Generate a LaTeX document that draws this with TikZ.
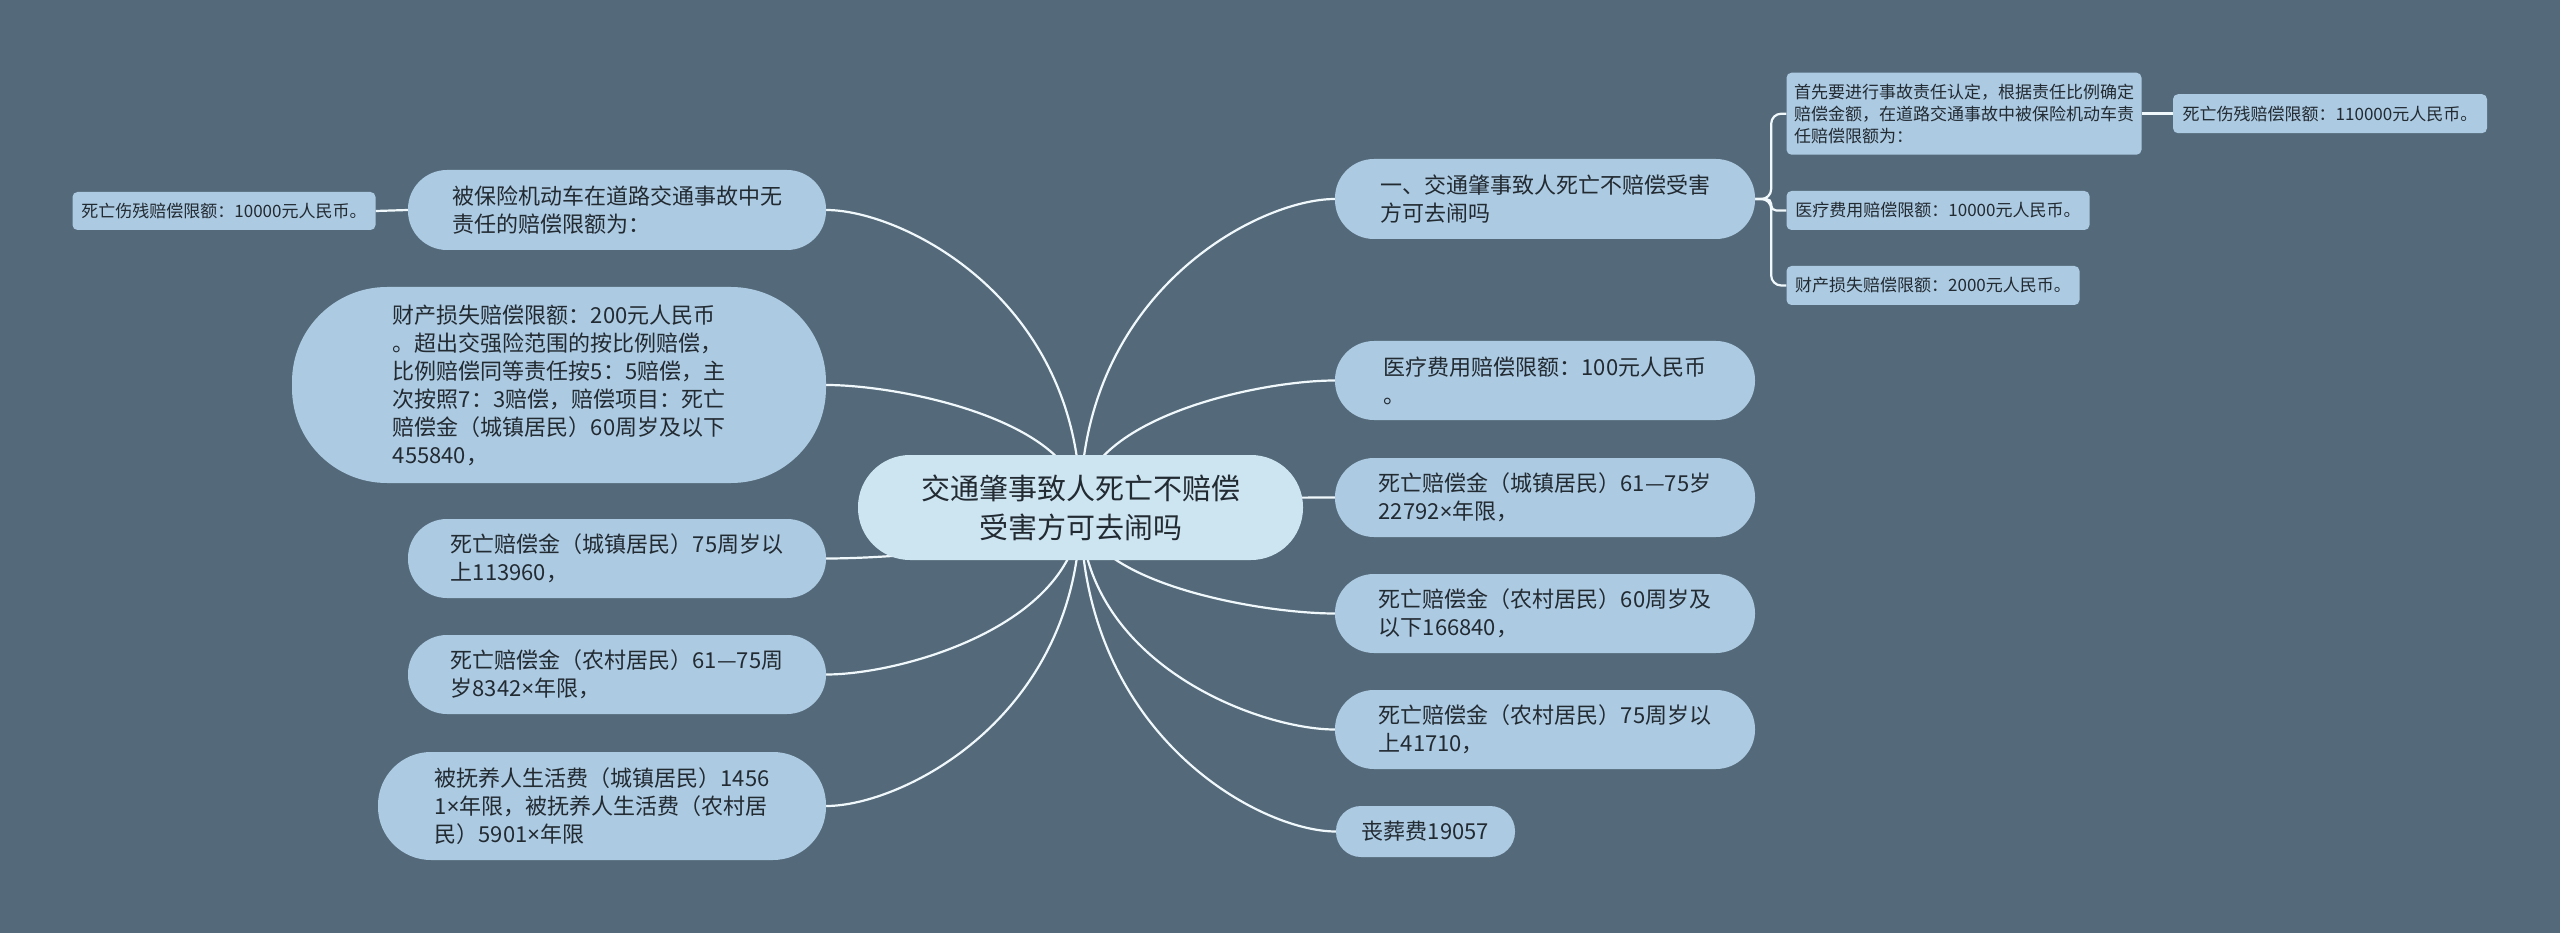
\documentclass[tikz,border=0pt]{standalone}
\usepackage{fontspec}
\setmainfont{Noto Sans CJK SC}
\newfontfamily\mmlatin{Noto Sans}
\newcommand\mmx{{\mmlatin ×}}
\usetikzlibrary{calc}
\pgfdeclarelayer{bgl}
\pgfdeclarelayer{edgel}
\pgfsetlayers{bgl,edgel,main}
\definecolor{bgc}{RGB}{84,106,122}
\definecolor{nodefill}{RGB}{172,202,225}
\definecolor{rootfill}{RGB}{205,228,241}
\definecolor{txtc}{RGB}{34,42,50}
\definecolor{linec}{RGB}{240,248,252}
\newcommand\mmlink[3]{%
  \coordinate (k#2) at (#1.center|-#2.#3);
  \draw[mmconn] (#1.center) .. controls ($(#1.center)!0.7!(k#2)$) and ($(k#2)!0.7!(#2.#3)$) .. (#2.#3);}
\begin{document}
\begin{tikzpicture}[x=1pt,y=-1pt,
  mmbase/.style={inner sep=0pt, text=txtc, align=left},
  mmroot/.style={mmbase, align=center, fill=rootfill, font=\fontsize{29pt}{39pt}\selectfont},
  mmtopic/.style={mmbase, fill=nodefill, font=\fontsize{22pt}{28pt}\selectfont},
  mmsub/.style={mmbase, fill=nodefill, font=\fontsize{17pt}{22pt}\selectfont, rounded corners=5pt},
  mmconn/.style={draw=linec, line width=2.2pt}]
\begin{pgfonlayer}{bgl}
\fill[bgc] (0,0) rectangle (2560,933);
\end{pgfonlayer}
\useasboundingbox (0,0) rectangle (2560,933);

% root
\node[mmroot, minimum width=445pt, minimum height=105pt, rounded corners=52pt] (C) at (1080.5,507.5)
  {交通肇事致人死亡不赔偿\\受害方可去闹吗};

% right topics
\node[mmtopic, minimum width=420pt, minimum height=80pt, rounded corners=39pt] (R1) at (1545,199)
  {一、交通肇事致人死亡不赔偿受害\\方可去闹吗};
\node[mmtopic, minimum width=420pt, minimum height=79pt, rounded corners=39pt] (R2) at (1545,380.5)
  {医疗费用赔偿限额：100元人民币\\。};
\node[mmtopic, minimum width=420pt, minimum height=79pt, rounded corners=39pt] (R3) at (1545,497.5)
  {死亡赔偿金（城镇居民）61—75岁\\22792\mmx 年限，};
\node[mmtopic, minimum width=420pt, minimum height=79pt, rounded corners=39pt] (R4) at (1545,613.5)
  {死亡赔偿金（农村居民）60周岁及\\以下166840，};
\node[mmtopic, minimum width=420pt, minimum height=79pt, rounded corners=39pt] (R5) at (1545,729.5)
  {死亡赔偿金（农村居民）75周岁以\\上41710，};
\node[mmtopic, minimum width=179pt, minimum height=51pt, rounded corners=25pt] (R6) at (1425.5,831.5)
  {丧葬费19057};

% right sub topics
\node[mmsub, minimum width=355pt, minimum height=82pt] (RS1) at (1964,113.7)
  {首先要进行事故责任认定，根据责任比例确定\\赔偿金额，在道路交通事故中被保险机动车责\\任赔偿限额为：};
\node[mmsub, minimum width=314pt, minimum height=39pt] (RS1a) at (2330,113.7)
  {死亡伤残赔偿限额：110000元人民币。};
\node[mmsub, minimum width=303pt, minimum height=39pt] (RS2) at (1938,210.5)
  {医疗费用赔偿限额：10000元人民币。};
\node[mmsub, minimum width=293pt, minimum height=39pt] (RS3) at (1933,285.5)
  {财产损失赔偿限额：2000元人民币。};

% left topics
\node[mmtopic, minimum width=418pt, minimum height=80pt, rounded corners=39pt] (L1) at (617,210)
  {被保险机动车在道路交通事故中无\\责任的赔偿限额为：};
\node[mmsub, minimum width=303pt, minimum height=38pt] (L1a) at (224,211)
  {死亡伤残赔偿限额：10000元人民币。};
\node[mmtopic, minimum width=534pt, minimum height=196pt, rounded corners=95pt] (L2) at (559,385)
  {财产损失赔偿限额：200元人民币\\。超出交强险范围的按比例赔偿，\\比例赔偿同等责任按5：5赔偿，主\\次按照7：3赔偿，赔偿项目：死亡\\赔偿金（城镇居民）60周岁及以下\\455840，};
\node[mmtopic, minimum width=418pt, minimum height=79pt, rounded corners=39pt] (L3) at (617,558.5)
  {死亡赔偿金（城镇居民）75周岁以\\上113960，};
\node[mmtopic, minimum width=418pt, minimum height=79pt, rounded corners=39pt] (L4) at (617,674.5)
  {死亡赔偿金（农村居民）61—75周\\岁8342\mmx 年限，};
\node[mmtopic, minimum width=448pt, minimum height=108pt, rounded corners=53pt] (L5) at (602,806)
  {被抚养人生活费（城镇居民）1456\\1\mmx 年限，被抚养人生活费（农村居\\民）5901\mmx 年限};

\begin{pgfonlayer}{edgel}
\mmlink{C}{R1}{west}
\mmlink{C}{R2}{west}
\mmlink{C}{R3}{west}
\mmlink{C}{R4}{west}
\mmlink{C}{R5}{west}
\mmlink{C}{R6}{west}
\mmlink{C}{L1}{east}
\mmlink{C}{L2}{east}
\mmlink{C}{L3}{east}
\mmlink{C}{L4}{east}
\mmlink{C}{L5}{east}
\draw[mmconn, rounded corners=10pt] (R1.east) -- ++(16,0) |- (RS1.west);
\draw[mmconn, rounded corners=5pt] (R1.east) -- ++(16,0) |- (RS2.west);
\draw[mmconn, rounded corners=10pt] (R1.east) -- ++(16,0) |- (RS3.west);
\draw[mmconn, line width=3pt] (RS1.east) -- (RS1a.west);
\draw[mmconn] (L1.west) -- (L1a.east);
\end{pgfonlayer}
\end{tikzpicture}
\end{document}
